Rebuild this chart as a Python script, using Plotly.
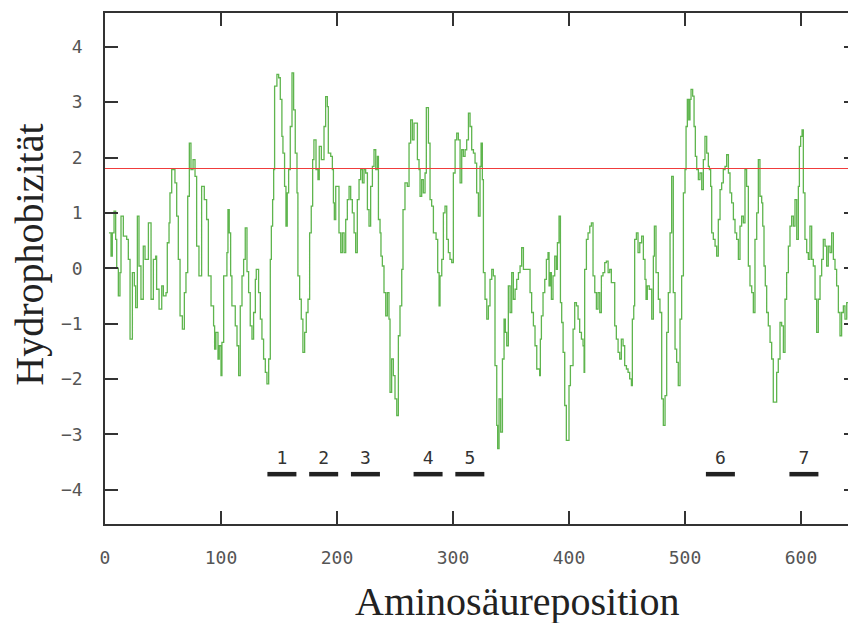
import plotly.graph_objects as go

# Aminosäureposition (residue index) and hydrophobicity values
pos = [3.4, 5.2, 6.3, 7.8, 9.2, 10.1, 11.5, 12.9, 13.8, 15.8, 18.7, 20.1, 21.6, 23.6, 25.3, 26.4, 27.9, 29.3, 31.0, 33.0,
       34.5, 37.4, 39.7, 41.7, 43.7, 44.5, 46.6, 48.9, 50.3, 52.6, 53.7, 55.2, 56.0, 57.5, 60.3, 61.8, 63.2, 64.7, 66.7, 68.4,
       69.8, 71.3, 72.7, 74.1, 75.9, 77.6, 79.0, 81.0, 83.3, 85.6, 87.6, 89.1, 91.4, 93.6, 94.5, 95.6, 97.4, 98.5, 100.0, 100.8,
       102.3, 105.1, 106.0, 107.1, 108.3, 109.4, 112.3, 113.8, 115.2, 116.6, 118.1, 119.5, 120.9, 122.4, 123.8, 125.2, 126.7, 128.1, 129.6, 130.4,
       132.4, 133.9, 135.3, 136.7, 138.2, 139.6, 141.1, 142.5, 143.4, 144.5, 145.4, 146.2, 148.2, 149.7, 151.1, 152.5, 153.4, 154.8, 156.0, 157.1,
       158.3, 159.7, 161.2, 162.6, 164.0, 165.5, 166.3, 167.8, 169.2, 170.6, 172.1, 173.5, 175.0, 176.4, 177.8, 179.0, 180.1, 181.9, 183.6, 184.7,
       186.5, 188.8, 190.2, 191.7, 192.5, 194.6, 196.0, 196.9, 197.7, 198.9, 200.3, 201.7, 203.2, 204.6, 206.1, 207.5, 208.9, 210.4, 211.8, 213.2,
       214.7, 216.1, 217.5, 219.0, 220.4, 221.9, 223.3, 224.7, 226.2, 227.6, 229.0, 230.5, 231.9, 233.4, 234.8, 235.7, 237.1, 237.9, 239.1, 240.5,
       242.0, 243.4, 244.8, 245.7, 247.1, 248.6, 250.0, 251.5, 252.9, 254.3, 255.8, 256.9, 258.6, 260.6, 262.1, 263.5, 265.0, 266.4, 267.8, 269.3,
       270.7, 271.6, 273.0, 274.4, 275.9, 277.0, 278.8, 280.2, 281.6, 283.1, 285.4, 286.8, 288.0, 288.8, 290.3, 291.7, 293.1, 294.6, 296.0, 297.4,
       298.9, 300.3, 301.8, 303.2, 304.6, 306.1, 307.5, 308.9, 310.4, 311.8, 313.3, 314.7, 316.1, 317.6, 319.0, 320.4, 321.9, 323.3, 324.2, 325.3,
       326.2, 327.6, 329.1, 330.5, 331.9, 333.4, 334.8, 336.2, 337.7, 338.5, 339.7, 341.1, 342.6, 344.0, 345.1, 346.3, 347.7, 349.2, 350.6, 352.0,
       353.5, 354.9, 356.4, 357.8, 359.2, 360.7, 363.5, 365.0, 366.4, 367.8, 369.3, 370.7, 372.2, 374.7, 375.3, 376.2, 377.6, 379.1, 380.5, 381.9,
       382.8, 383.9, 384.8, 386.2, 387.7, 389.1, 390.0, 391.4, 392.6, 393.7, 394.9, 396.3, 397.7, 399.2, 400.0, 401.2, 402.3, 403.5, 404.9, 406.4,
       407.8, 409.2, 410.7, 412.1, 413.0, 413.5, 415.0, 416.4, 417.9, 419.3, 420.7, 422.2, 423.6, 425.0, 426.5, 427.9, 429.3, 430.8, 432.2, 433.7,
       435.1, 436.5, 438.0, 439.4, 440.8, 442.3, 443.7, 445.1, 446.6, 448.0, 449.5, 450.9, 452.3, 453.8, 454.6, 455.8, 456.6, 458.1, 459.5, 461.0,
       462.6, 464.1, 465.5, 466.4, 467.5, 469.2, 471.3, 472.7, 473.6, 475.0, 477.0, 478.4, 479.9, 481.3, 482.8, 484.2, 485.6, 487.1, 488.5, 489.9,
       491.4, 492.8, 494.2, 495.7, 497.1, 498.6, 500.0, 500.9, 502.0, 503.2, 504.3, 505.2, 506.6, 507.8, 508.9, 510.1, 511.5, 512.9, 514.4, 515.8,
       517.2, 518.7, 520.1, 521.0, 522.1, 523.0, 524.4, 525.9, 527.3, 528.7, 530.2, 531.6, 533.0, 534.5, 535.9, 537.4, 538.8, 540.2, 541.7, 543.1,
       544.5, 546.0, 547.4, 548.8, 550.3, 551.7, 553.1, 554.6, 556.0, 557.5, 558.9, 560.3, 561.8, 563.2, 564.6, 566.1, 567.0, 568.1, 569.2, 570.4,
       571.8, 573.3, 574.7, 576.1, 577.6, 579.0, 580.4, 581.9, 583.3, 584.8, 586.2, 587.6, 589.1, 590.5, 591.9, 593.4, 594.8, 596.3, 597.7, 598.6,
       599.7, 600.9, 602.0, 603.4, 604.9, 606.3, 607.7, 609.2, 610.6, 612.1, 613.5, 614.9, 616.4, 617.8, 619.2, 620.7, 622.1, 623.5, 625.0, 626.4,
       627.9, 629.3, 630.7, 632.2, 633.6, 635.0, 636.5, 637.9, 639.4, 641.0]

hyd = [0.64, 0.22, 0.64, 1.03, 0.52, 0.00, -0.50, -0.08, 0.94, 0.58, 0.52, 0.16, -1.28, -0.08, -0.32, -0.71, 0.94, 0.04, -0.56, 0.40,
       0.16, 0.82, -0.56, 0.16, 0.22, -0.38, -0.74, -0.32, -0.50, -0.44, 0.46, 0.82, 1.36, 1.78, 1.54, 0.94, 0.16, -0.86, -1.10, -0.44,
       -0.08, 1.30, 2.26, 1.78, 1.96, 1.66, 0.40, -0.14, 1.48, 1.24, 0.88, -0.14, -0.68, -1.04, -1.46, -1.16, -1.64, -1.40, -1.94, -1.34,
       -0.14, 0.28, 1.06, 0.64, -0.14, -0.68, -1.04, -1.40, -1.94, -0.68, -0.14, 0.16, 0.73, -0.06, -0.44, -1.04, -1.28, -0.80, -0.20, -0.02,
       -0.44, -0.92, -1.28, -1.64, -1.88, -2.09, -1.64, 0.16, 0.76, 1.24, 1.78, 3.29, 3.50, 3.44, 3.05, 2.38, 2.08, 1.48, 0.76, 1.36,
       1.78, 2.56, 3.53, 2.86, 2.08, 1.36, -0.14, -0.56, -0.92, -1.52, -1.16, -0.80, -0.56, 0.64, 1.12, 1.96, 2.32, 1.78, 1.60, 2.20,
       1.96, 2.56, 3.10, 2.92, 2.08, 2.02, 1.78, 1.18, 0.88, 1.48, 1.48, 0.64, 0.28, 0.64, 0.28, 0.88, 1.24, 1.48, 1.24, 1.00,
       0.64, 0.28, 1.24, 1.60, 1.78, 1.54, 1.78, 1.72, 1.06, 0.76, 1.48, 1.84, 2.14, 1.78, 2.02, 0.88, 0.64, 0.22, 0.04, -0.44,
       -0.86, -0.44, -0.92, -2.24, -1.64, -1.94, -2.36, -2.66, -1.22, -0.68, -0.02, 1.06, 1.54, 1.48, 2.26, 2.68, 2.32, 2.62, 2.62, 1.96,
       1.78, 1.30, 1.60, 1.36, 1.72, 2.90, 2.26, 1.24, 1.12, 0.64, 0.52, -0.08, -0.68, -0.14, 0.16, 1.00, 1.12, 0.52, 0.28, 0.16,
       0.10, 1.72, 2.32, 2.44, 2.32, 1.54, 2.14, 2.02, 2.14, 2.32, 2.80, 2.56, 2.14, 2.08, 1.90, 1.36, 0.94, 1.84, 2.26, 1.60,
       -0.08, -0.56, -0.92, -0.68, -0.20, -0.02, -0.14, -1.76, -2.84, -3.26, -2.36, -2.96, -1.64, -0.92, -1.16, -1.40, -0.32, -0.80, -0.08, -0.56,
       -0.38, -0.20, -0.08, 0.04, 0.37, -0.02, -0.02, -0.02, -0.44, -0.80, -1.04, -1.40, -1.82, -1.94, -1.28, -0.86, -0.44, -0.20, 0.16, 0.28,
       -0.32, -0.08, -0.56, -0.14, 0.22, -0.02, 0.46, 0.94, -0.62, -0.98, -1.52, -2.48, -3.11, -3.11, -2.12, -1.76, -1.76, -1.10, -0.62, -0.68,
       -0.92, -1.16, -1.28, -1.40, -1.88, -0.02, 0.52, 0.64, 0.76, 0.82, -0.14, -0.44, -0.74, -0.44, -0.80, -0.14, -0.08, 0.10, 0.13, -0.08,
       -0.02, -0.26, -0.26, -1.04, -1.28, -1.52, -1.64, -1.28, -1.40, -1.76, -1.82, -1.88, -2.00, -2.12, -0.92, -0.68, 0.52, 0.64, 0.28, 0.46,
       0.58, 0.16, -0.20, -0.56, -0.32, -0.38, -0.92, 0.22, 0.76, -0.08, -0.56, -0.80, -2.36, -2.84, -2.30, -1.16, -0.44, 0.64, 1.66, -0.44,
       -1.46, -1.70, -2.12, -0.92, -0.14, 1.36, 1.78, 2.56, 3.05, 2.68, 3.05, 3.23, 3.11, 2.56, 2.02, 1.78, 1.60, 1.72, 1.42, 1.96,
       2.38, 2.08, 1.84, 1.78, 1.48, 0.64, 0.52, 0.40, 0.22, 0.88, 1.42, 1.54, 1.78, 1.84, 2.05, 1.72, 1.36, 1.18, 0.88, 0.64,
       0.52, 0.16, 0.76, 0.94, 0.82, 1.78, 1.48, 0.04, -0.32, -0.44, -0.80, 0.52, 1.00, 1.96, 1.30, 1.18, 0.76, 0.04, -0.32, -0.80,
       -1.04, -1.34, -1.64, -2.42, -2.42, -1.88, -1.64, -0.98, -1.04, -1.52, -0.56, -0.08, 0.40, 0.76, 0.94, 0.76, 1.24, 0.52, 1.48, 2.20,
       2.38, 2.50, 1.36, 0.52, 0.28, 0.16, 0.76, 0.16, 0.04, -0.56, -1.16, -0.56, -0.14, 0.16, 0.52, 0.40, 0.04, 0.40, 0.28, 0.64,
       0.16, -0.02, -0.32, -0.80, -1.22, -0.80, -0.68, -0.92, -0.62, -0.90]

threshold = 1.8

# transmembrane segments (start, end) and labels
seg_start = [140, 176, 212, 266, 302, 518, 590]
seg_end = [165, 201, 237, 291, 327, 543, 615]
seg_label = ["1", "2", "3", "4", "5", "6", "7"]
seg_level = -3.72
label_level = -3.46

x_ticks = [0, 100, 200, 300, 400, 500, 600]
y_ticks = [-4, -3, -2, -1, 0, 1, 2, 3, 4]

fig = go.Figure()

fig.add_trace(go.Scatter(
    x=pos, y=hyd, mode="lines", line=dict(color="#5fb54e", width=1.3, shape="hv"),
    hoverinfo="x+y", showlegend=False))

fig.add_trace(go.Scatter(
    x=[0, 641], y=[threshold, threshold], mode="lines",
    line=dict(color="#f03c3c", width=1.1), yaxis="y2", showlegend=False))

bx, by = [], []
for s, e in zip(seg_start, seg_end):
    bx += [s, e, None]
    by += [seg_level, seg_level, None]
fig.add_trace(go.Scatter(x=bx, y=by, mode="lines",
                         line=dict(color="#222222", width=4.5), showlegend=False))

fig.add_trace(go.Scatter(
    x=[(s + e) / 2 for s, e in zip(seg_start, seg_end)],
    y=[label_level] * len(seg_label), mode="text", text=seg_label,
    textfont=dict(family="DejaVu Sans Mono", size=18, color="#333333"),
    showlegend=False))

tickfont = dict(family="DejaVu Sans Mono", size=18, color="#555555")
yr = [-4.62, 4.61]

fig.update_layout(
    width=848, height=623,
    margin=dict(l=105, r=0, t=13, b=99),
    paper_bgcolor="white", plot_bgcolor="white",
    xaxis=dict(range=[0, 640.5], tickvals=x_ticks, ticks="inside", ticklen=13,
               tickwidth=1.5, tickcolor="#333333", showline=True, linecolor="#333333",
               linewidth=1.5, mirror="ticks", showgrid=False, zeroline=False,
               tickfont=tickfont, ticklabelstandoff=17),
    yaxis=dict(range=yr, tickvals=y_ticks, ticks="inside", ticklen=13,
               tickwidth=1.5, tickcolor="#333333", showline=True, linecolor="#333333",
               linewidth=1.5, showgrid=False, zeroline=False,
               tickfont=tickfont, ticklabelstandoff=17),
    yaxis2=dict(range=yr, tickvals=y_ticks, overlaying="y", side="right",
                ticks="inside", ticklen=4, tickwidth=1.5, tickcolor="#333333",
                showticklabels=False, showline=False, showgrid=False, zeroline=False),
    annotations=[
        dict(text="Aminosäureposition", xref="paper", yref="paper", x=0.555, y=-0.151,
             xanchor="center", yanchor="middle", showarrow=False,
             font=dict(family="Liberation Serif", size=40, color="#222222")),
        dict(text="Hydrophobizität", xref="paper", yref="paper", x=-0.101, y=0.527,
             xanchor="center", yanchor="middle", textangle=-90, showarrow=False,
             font=dict(family="Liberation Serif", size=40, color="#222222")),
    ],
)

fig.write_html("out.html", config={"displayModeBar": False},
               post_script="document.body.style.margin='0';document.body.style.overflow='hidden';")
